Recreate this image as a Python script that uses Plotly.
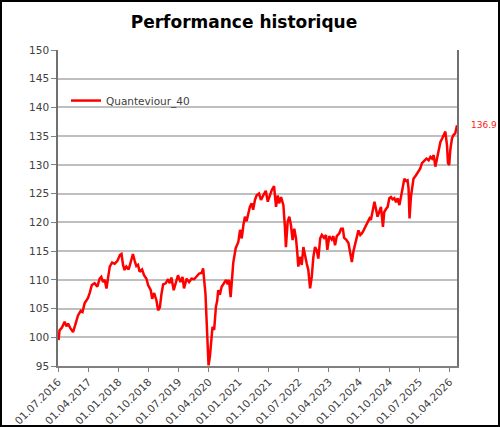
import plotly.graph_objects as go


# ---------------------------------------------------
# DATA
# ---------------------------------------------------

dates = [
    "2016-07-05", "2016-07-14", "2016-08-05", "2016-08-29", "2016-09-15",
    "2016-09-29", "2016-10-20", "2016-11-14", "2016-12-08", "2016-12-29",
    "2017-01-23", "2017-02-08", "2017-02-27", "2017-03-29", "2017-04-14",
    "2017-05-04", "2017-05-29", "2017-06-23", "2017-07-14", "2017-07-29",
    "2017-08-14", "2017-08-29", "2017-09-14", "2017-09-28", "2017-10-14",
    "2017-11-04", "2017-11-28", "2017-12-23", "2018-01-14", "2018-01-29",
    "2018-02-12", "2018-02-26", "2018-03-14", "2018-04-04", "2018-04-28",
    "2018-05-13", "2018-05-29", "2018-06-13", "2018-06-28", "2018-07-13",
    "2018-08-04", "2018-08-22", "2018-09-13", "2018-09-28", "2018-10-22",
    "2018-11-04", "2018-11-22", "2018-12-13", "2018-12-28", "2019-01-13",
    "2019-01-28", "2019-02-12", "2019-03-07", "2019-03-28", "2019-04-13",
    "2019-04-28", "2019-05-19", "2019-06-07", "2019-06-27", "2019-07-19",
    "2019-08-07", "2019-08-21", "2019-09-13", "2019-10-06", "2019-10-28",
    "2019-11-21", "2019-12-13", "2020-01-06", "2020-01-28", "2020-02-11",
    "2020-02-20", "2020-03-03", "2020-03-12", "2020-03-21", "2020-03-31",
    "2020-04-12", "2020-04-27", "2020-05-06", "2020-05-21", "2020-06-06",
    "2020-06-18", "2020-06-27", "2020-07-12", "2020-07-28", "2020-08-18",
    "2020-09-06", "2020-09-21", "2020-10-03", "2020-10-18", "2020-10-30",
    "2020-11-11", "2020-12-03", "2020-12-27", "2021-01-12", "2021-01-27",
    "2021-02-11", "2021-02-25", "2021-03-12", "2021-03-27", "2021-04-11",
    "2021-04-27", "2021-05-11", "2021-05-27", "2021-06-12", "2021-07-03",
    "2021-07-21", "2021-08-11", "2021-09-03", "2021-09-21", "2021-10-12",
    "2021-10-27", "2021-11-17", "2021-12-05", "2021-12-21", "2022-01-02",
    "2022-01-20", "2022-02-10", "2022-02-24", "2022-03-05", "2022-03-21",
    "2022-04-05", "2022-04-20", "2022-05-05", "2022-05-20", "2022-06-05",
    "2022-06-17", "2022-06-26", "2022-07-11", "2022-07-27", "2022-08-11",
    "2022-08-26", "2022-09-11", "2022-09-25", "2022-10-11", "2022-10-26",
    "2022-11-10", "2022-11-25", "2022-12-11", "2022-12-25", "2023-01-11",
    "2023-01-26", "2023-02-15", "2023-03-05", "2023-03-17", "2023-04-04",
    "2023-04-26", "2023-05-11", "2023-05-26", "2023-06-11", "2023-07-04",
    "2023-07-20", "2023-08-05", "2023-08-17", "2023-09-04", "2023-09-25",
    "2023-10-11", "2023-10-26", "2023-11-10", "2023-11-25", "2023-12-11",
    "2023-12-25", "2024-01-11", "2024-01-26", "2024-02-10", "2024-02-25",
    "2024-03-16", "2024-04-04", "2024-04-16", "2024-05-04", "2024-05-19",
    "2024-06-04", "2024-06-16", "2024-07-01", "2024-07-17", "2024-08-04",
    "2024-08-16", "2024-09-04", "2024-09-16", "2024-10-01", "2024-10-16",
    "2024-10-31", "2024-11-16", "2024-12-01", "2024-12-16", "2025-01-01",
    "2025-01-16", "2025-01-31", "2025-02-15", "2025-03-04", "2025-03-16",
    "2025-03-25", "2025-04-03", "2025-04-16", "2025-04-25", "2025-05-09",
    "2025-06-01", "2025-06-19", "2025-07-10", "2025-07-25", "2025-08-16",
    "2025-09-04", "2025-09-24", "2025-10-10", "2025-10-25", "2025-11-09",
    "2025-11-24", "2025-12-10", "2025-12-24", "2026-01-09", "2026-01-25",
    "2026-02-08", "2026-02-23", "2026-03-10", "2026-03-19", "2026-03-30",
    "2026-04-09", "2026-04-24", "2026-05-08", "2026-05-24", "2026-06-09",
]

values = [
    99.5, 101.2, 101.7, 102.7, 101.9, 102.4, 101.6, 100.9, 102.4, 103.8,
    104.6, 104.4, 105.9, 106.8, 107.7, 109.1, 109.4, 108.8, 110.2, 110.5,
    109.6, 110.0, 108.5, 110.2, 112.3, 113.0, 112.8, 113.3, 114.3, 114.5,
    112.6, 111.7, 112.3, 111.8, 113.7, 114.5, 113.3, 112.4, 112.6, 111.4,
    111.8, 110.8, 110.2, 109.1, 108.2, 106.7, 107.7, 106.4, 104.7, 105.2,
    107.6, 109.2, 109.4, 110.1, 109.4, 110.4, 108.2, 109.4, 110.8, 109.6,
    110.5, 108.5, 110.2, 109.6, 110.2, 110.1, 110.5, 111.1, 111.2, 112.0,
    110.0, 107.6, 103.5, 98.9, 95.1, 96.6, 99.5, 101.8, 101.3, 105.3,
    106.4, 108.2, 107.4, 108.8, 109.4, 110.0, 109.2, 110.0, 107.0, 110.6,
    113.0, 115.5, 116.6, 118.7, 117.2, 119.5, 121.0, 120.2, 121.5, 122.7,
    123.3, 122.2, 123.9, 124.7, 125.0, 123.9, 124.7, 125.5, 123.6, 125.0,
    125.6, 126.3, 122.7, 124.7, 123.3, 124.4, 123.0, 119.2, 115.7, 120.1,
    121.0, 119.5, 116.9, 118.9, 117.2, 114.6, 112.3, 114.0, 112.6, 115.7,
    114.0, 112.8, 111.7, 108.5, 110.5, 114.0, 115.7, 115.1, 113.7, 117.2,
    117.8, 117.3, 117.8, 115.2, 117.6, 117.0, 117.6, 116.0, 117.6, 118.1,
    118.9, 118.9, 117.3, 117.0, 116.4, 114.6, 113.1, 115.0, 116.3, 117.3,
    118.6, 117.8, 118.1, 118.6, 119.2, 119.8, 120.7, 120.4, 122.1, 123.6,
    122.1, 121.0, 121.8, 122.7, 119.2, 121.8, 122.4, 122.7, 124.2, 124.4,
    124.0, 124.2, 123.5, 124.2, 123.0, 124.5, 126.2, 127.6, 127.2, 127.3,
    125.9, 120.7, 124.5, 125.9, 127.6, 128.2, 128.8, 129.4, 130.3, 130.8,
    131.1, 130.8, 131.4, 131.1, 131.7, 129.7, 131.4, 132.3, 134.0, 134.6,
    135.2, 135.8, 133.4, 130.3, 130.0, 132.6, 134.6, 135.2, 135.5, 136.9,
]

series_name = "Quanteviour_40"
chart_title = "Performance historique"
last_label = "136.9"

tick_font = dict(family="DejaVu Sans", size=10.5, color="#404040")


# ---------------------------------------------------
# FIGURE
# ---------------------------------------------------

fig = go.Figure()

fig.add_trace(go.Scatter(
    x=dates,
    y=values,
    mode="lines",
    name=series_name,
    line=dict(color="#ff0000", width=2.5)
))

fig.add_annotation(
    x=1, xref="paper",
    y=values[-1], yref="y",
    text=last_label,
    showarrow=False,
    xanchor="left",
    xshift=12,
    font=dict(family="DejaVu Sans", size=9, color="#ff2020")
)

# black frame around the whole picture
fig.add_shape(
    type="rect",
    xref="paper", yref="paper",
    x0=-0.1429, x1=1.1053,
    y0=-0.1899, y1=1.1551,
    line=dict(color="black", width=2)
)

fig.update_layout(
    width=500,
    height=427,
    margin=dict(l=58, r=43, t=50, b=61),
    paper_bgcolor="white",
    plot_bgcolor="white",
    title=dict(
        text=chart_title,
        x=0.488, y=0.948,
        xanchor="center", yanchor="middle",
        font=dict(family="DejaVu Sans", size=17, color="black", weight="bold")
    ),
    showlegend=True,
    legend=dict(
        x=0.02, y=0.84,
        xanchor="left", yanchor="middle",
        bgcolor="rgba(0,0,0,0)",
        font=dict(family="DejaVu Sans", size=10.5, color="#404040")
    )
)

fig.update_xaxes(
    type="date",
    range=["2016-06-30", "2026-06-09"],
    tick0="2016-07-01",
    dtick="M9",
    tickformat="%d.%m.%Y",
    tickangle=-45,
    ticks="outside",
    ticklen=4,
    tickcolor="#808080",
    tickfont=tick_font,
    showgrid=False,
    showline=True,
    linecolor="#808080",
    linewidth=1.5,
    automargin=False
)

fig.update_yaxes(
    range=[95, 150],
    dtick=5,
    ticks="outside",
    ticklen=5,
    tickcolor="#808080",
    tickfont=tick_font,
    showgrid=True,
    gridcolor="#bfbfbf",
    gridwidth=1.5,
    showline=True,
    mirror=True,
    linecolor="#707070",
    linewidth=1.5,
    zeroline=False,
    automargin=False
)

fig.write_html(
    "out.html",
    config={"displayModeBar": False},
    post_script="document.body.style.margin='0';"
)
